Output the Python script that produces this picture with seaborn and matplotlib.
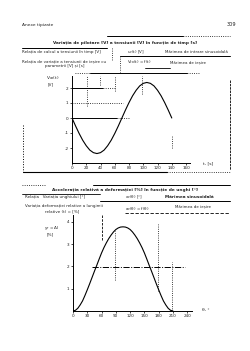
import matplotlib
matplotlib.use("Agg")
import matplotlib.pyplot as plt
import seaborn as sns
import pandas as pd
from matplotlib.lines import Line2D

# ---------------- data ----------------
# chart 1 : V_ca(t)
t_values = [0, 5, 10, 15, 20, 25, 30, 35, 40, 45, 50, 55, 60, 65, 70,
            75, 80, 85, 90, 95, 100, 105, 110, 115, 120, 125, 130, 135, 140]
v_values = [0.0, -0.53, -1.03, -1.48, -1.85, -2.14, -2.31, -2.37, -2.31, -2.14, -1.85, -1.48, -1.03, -0.53, 0.0,
            0.53, 1.03, 1.48, 1.85, 2.14, 2.31, 2.37, 2.31, 2.14, 1.85, 1.48, 1.03, 0.53, 0.0]
t_ticks = [0, 20, 40, 60, 80, 100, 120, 140, 160]
t_tick_labels = ["0", "20", "40", "60", "80", "100", "120", "140", "160"]
v_ticks = [-2, -1, 0, 1, 2]
v_tick_labels = ["-2", "-1", "0", "1", "2"]

# chart 2 : relative acceleration vs angle
theta_values = [0, 5, 10, 15, 20, 25, 30, 35, 40, 45, 50, 55, 60, 65, 70, 75, 80, 85, 90, 95, 100, 105,
                110, 115, 120, 125, 130, 135, 140, 145, 150, 155, 160, 165, 170, 175, 180, 185, 190, 195, 200, 205, 210]
y_values = [0.0, 0.03, 0.12, 0.27, 0.45, 0.69, 0.95, 1.22, 1.5, 1.78, 2.05, 2.33, 2.6, 2.84, 3.05, 3.24,
            3.4, 3.54, 3.65, 3.72, 3.76, 3.77,
            3.76, 3.72, 3.65, 3.54, 3.4, 3.24, 3.05, 2.84, 2.6, 2.33, 2.05, 1.78, 1.5, 1.22, 0.95, 0.69,
            0.45, 0.27, 0.12, 0.03, 0.0]
theta_ticks = [0, 30, 60, 90, 120, 150, 180, 210, 240]
theta_tick_labels = ["0", "30", "60", "90", "120", "150", "180", "210", "240"]
y_ticks = [1, 2, 3, 4]
y_tick_labels = ["1", "2", "3", "4"]

# texts
header_left = "Anexe tipizate"
header_right = "309"
title1 = "Variația de pilotare [V] a tensiunii [V] în funcție de timp [s]"
row1_left = "Relația de calcul a tensiunii în timp [V]"
row1_mid = "u$_e$(t) [V]"
row1_right = "Mărimea de intrare sinusoidală"
row2_left_a = "Relația de variație a tensiunii de ieșire cu"
row2_left_b = "parametrii [V] și [s]"
row2_mid = "V$_{ca}$(t) = f(t)"
row2_right = "Mărimea de ieșire"
title2 = "Accelerația relativă a deformației [%] în funcție de unghi [°]"
r1_left = "Relația   Variația unghiului [°]"
r1_mid = "x$_e$(θ) [°]"
r1_right = "Mărimea sinusoidală"
r2_left_a = "Variația deformației relative a lungimii"
r2_left_b = "relative (t) = [%]"
r2_mid = "a$_e$(θ) = f(θ)"
r2_right = "Mărimea de ieșire"

# ---------------- figure ----------------
sns.set_theme(style="white")
plt.rcParams['font.family'] = ['DejaVu Sans']
W, H = 250, 351
fig = plt.figure(figsize=(W / 100, H / 100), dpi=100)
fig.patch.set_facecolor("white")
INK = "#222222"


def fx(px):
    return px / W


def fy(py):
    return 1 - py / H


def fline(x0, x1, y0, y1, ls="-", lw=0.6, color="black"):
    fig.add_artist(Line2D([fx(x0), fx(x1)], [fy(y0), fy(y1)], transform=fig.transFigure,
                          color=color, lw=lw, ls=ls))


def ftext(x, y, s, size=3.0, ha="left", weight="normal"):
    fig.text(fx(x), fy(y), s, fontsize=size, ha=ha, va="center", weight=weight, color=INK)


# header
ftext(22, 25, header_left, size=3.2)
ftext(236, 25, header_right, size=3.6, ha="right")

# ---------- table 1 ----------
fline(107, 183, 36, 36, lw=0.7)
fline(183, 230, 36, 36, ls=":", lw=0.6)
ftext(125, 43, title1, size=3.1, ha="center", weight="bold")
fline(22, 107, 48, 48, lw=0.7)
ftext(22, 52, row1_left, size=2.9)
ftext(127, 52, row1_mid, size=2.9)
ftext(165, 52, row1_right, size=2.9)
fline(112, 112, 48, 60, ls=":", lw=0.6)
fline(120, 230, 56, 56, lw=0.7)
ftext(22, 61, row2_left_a, size=2.9)
ftext(45, 66, row2_left_b, size=2.9)
ftext(127, 62, row2_mid, size=2.9)
ftext(170, 62, row2_right, size=2.9)
fline(120, 120, 56, 72, ls=":", lw=0.6)
fline(145, 170, 68, 68, lw=0.6)
fline(75, 90, 73, 73, ls=":", lw=0.6)
fline(90, 187, 73, 73, lw=0.7)
fline(187, 200, 73, 73, ls=":", lw=0.6)

# frame chart 1
fline(23, 23, 125, 172, ls=":", lw=0.7)
fline(230, 230, 80, 170, ls=(0, (3, 1)), lw=0.6)
fline(23, 167, 172, 172, lw=0.8)
fline(167, 230, 172, 172, ls=":", lw=0.6)

# ---------- chart 1 ----------
ax1 = fig.add_axes([fx(72), fy(163), 117.6 / W, 87 / H])
df1 = pd.DataFrame({"t": t_values, "v": v_values})
sns.lineplot(data=df1, x="t", y="v", ax=ax1, color="black", lw=0.8)
ax1.set_xlim(0, 165)
ax1.set_ylim(-3, 2.8)
ax1.set_xticks(t_ticks)
ax1.set_xticklabels(t_tick_labels)
ax1.set_yticks(v_ticks)
ax1.set_yticklabels(v_tick_labels)
ax1.set_xlabel("")
ax1.set_ylabel("")
# construction lines
ax1.hlines(2, 0, 43, color="black", lw=0.7)
ax1.hlines(2, 43, 60, color="black", lw=0.6, ls=":")
ax1.hlines(1, 0, 72, color="black", lw=0.6, ls=":")
ax1.hlines(0, 0, 63, color="black", lw=0.7)
ax1.hlines(0, 63, 80, color="black", lw=0.6, ls=":")
ax1.vlines(21, 0.8, 2.8, color="black", lw=0.6, ls=":")
ax1.vlines(39, 2.2, 2.8, color="black", lw=0.6, ls=":")
ax1.vlines(60, 1.8, 2.8, color="black", lw=0.6, ls=":")
ax1.vlines(98, 1.6, 2.8, color="black", lw=0.6, ls=":")
ax1.vlines(140, -2.0, -1.2, color="black", lw=0.6, ls=":")

# ---------- chart 2 section table ----------
fline(22, 45, 185, 185, ls=":", lw=0.6)
fline(93, 230, 185, 185, lw=0.7)
ftext(125, 190, title2, size=3.1, ha="center", weight="bold")
fline(22, 100, 193.5, 193.5, lw=0.6)
ftext(25, 197, r1_left, size=2.9)
ftext(125, 197, r1_mid, size=2.9)
ftext(165, 197, r1_right, size=3.0, weight="bold")
fline(100, 230, 201, 201, lw=0.7)
ftext(25, 206, r2_left_a, size=2.9)
ftext(45, 211, r2_left_b, size=2.9)
ftext(125, 209, r2_mid, size=2.9)
ftext(175, 206, r2_right, size=2.9)
fline(125, 230, 213, 213, ls=(0, (4, 2)), lw=0.6)

# ---------- chart 2 ----------
ax2 = fig.add_axes([fx(73), fy(311), 119 / W, 96 / H])
df2 = pd.DataFrame({"theta": theta_values, "y": y_values})
sns.lineplot(data=df2, x="theta", y="y", ax=ax2, color="black", lw=0.8)
ax2.set_xlim(0, 250)
ax2.set_ylim(0, 4.3)
ax2.set_xticks(theta_ticks)
ax2.set_xticklabels(theta_tick_labels)
ax2.set_yticks(y_ticks)
ax2.set_yticklabels(y_tick_labels)
ax2.set_xlabel("")
ax2.set_ylabel("")
ax2.hlines(1.97, 40, 235, color="black", lw=0.7, ls="-.")
ax2.vlines(60, 3.2, 4.3, color="black", lw=0.6, ls=(0, (3, 1.5)))
ax2.vlines(88, 1.4, 3.6, color="black", lw=0.6, ls=":")
ax2.vlines(178, 0.9, 3.9, color="black", lw=0.6, ls=":")
ax2.vlines(208, 0.0, 2.2, color="black", lw=0.6, ls=":")

for ax in (ax1, ax2):
    sns.despine(ax=ax)
    for s in ("left", "bottom"):
        ax.spines[s].set_color("black")
        ax.spines[s].set_linewidth(0.7)
    ax.tick_params(axis="both", labelsize=3.0, length=1.5, width=0.5, pad=1,
                   colors="black", labelcolor=INK, direction="out", left=True, bottom=True)
    ax.set_facecolor("white")
    ax.grid(False)

# axis labels
ftext(46, 78, "V$_{ca}$(t)", size=3.2)
ftext(48, 84, "[V]", size=3.0)
ftext(203, 163, "t, [s]", size=3.2)
ftext(44, 228, "y$_r$ = Δl", size=3.0)
ftext(47, 234, "[%]", size=3.0)
ftext(202, 310, "θ, °", size=3.2)

fig.savefig("out.png", dpi=100, facecolor="white")
